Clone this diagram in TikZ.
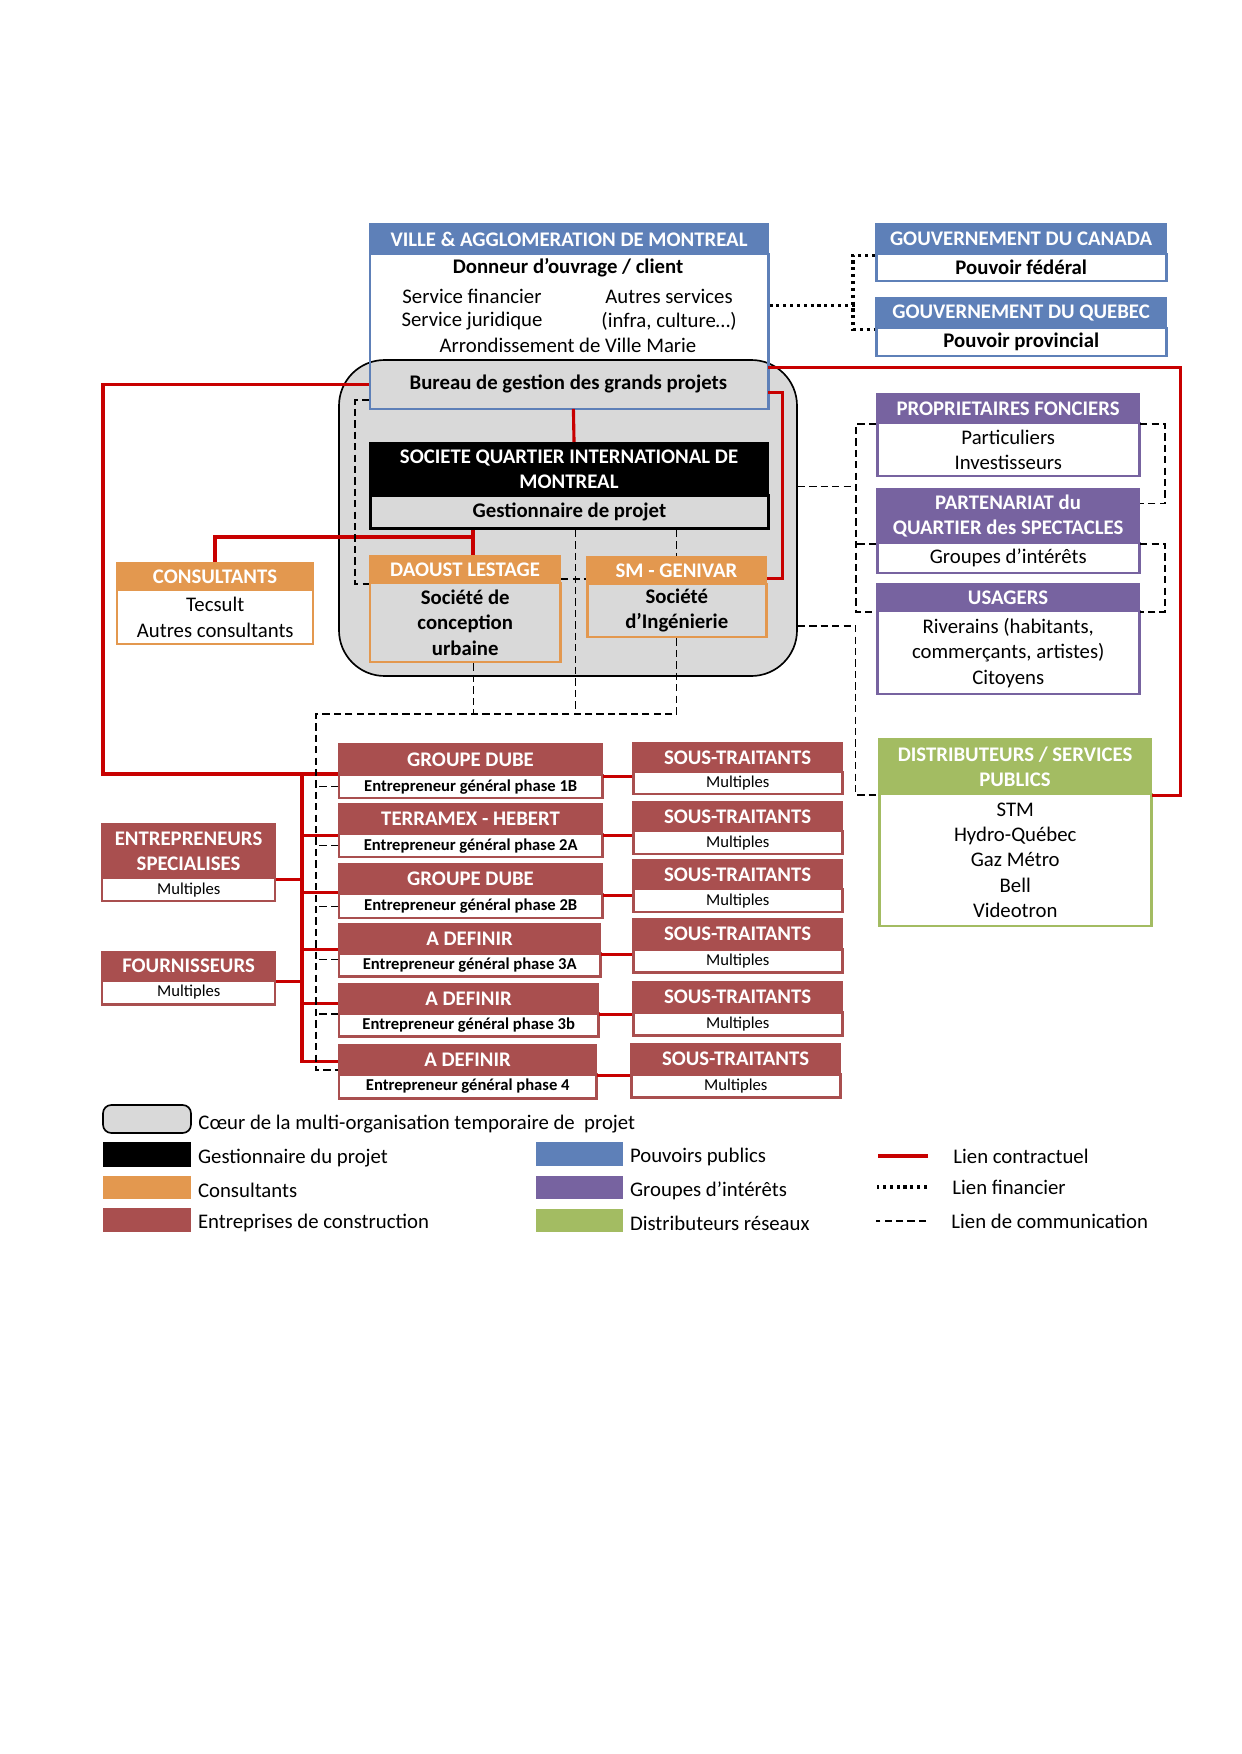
\documentclass[tikz,border=0pt]{standalone}
\usepackage{fontspec}
\setmainfont{Carlito}
\usetikzlibrary{fit,positioning}

\definecolor{cblue}{HTML}{5E80B8}
\definecolor{cpurple}{HTML}{7763A0}
\definecolor{cgreen}{HTML}{A3BC62}
\definecolor{corange}{HTML}{E3984F}
\definecolor{cred}{HTML}{A94F4F}
\definecolor{coregray}{HTML}{D9D9D9}
\definecolor{linkred}{HTML}{C80000}

\newlength{\pxu}
\setlength{\pxu}{0.16922mm}
\newcommand\hdfont{\fontsize{10}{12.2}\selectfont\bfseries}
\newcommand\bdfont{\fontsize{10}{12.2}\selectfont}
\newcommand\smfont{\fontsize{8}{9.6}\selectfont}

\tikzset{
  wh/.style 2 args={minimum width=#1*\pxu, minimum height=#2*\pxu, anchor=north west},
  band/.style={fill=#1, draw=#1, line width=1pt, inner sep=0pt, text=white, font=\hdfont, align=center},
  body/.style={draw=#1, fill=white, line width=1.2pt, inner sep=0pt, align=center, font=\bdfont},
  txt/.style={inner sep=0pt, font=\bdfont},
  contract/.style={draw=linkred, line width=1.5pt},
  comm/.style={draw=black, line width=0.6pt, dash pattern=on 3.5pt off 2pt},
  fin/.style={draw=black, line width=1.5pt, dash pattern=on 1.5pt off 1.8pt},
}

\begin{document}
\begin{tikzpicture}[x=0.16922mm, y=-0.16922mm]
\useasboundingbox (0,0) rectangle (1241,1754);

% coeur du projet
\node[fit={(339,360) (797,676)}, draw, fill=coregray, rounded corners=22pt, inner sep=0pt, line width=0.8pt] (core) {};

% pouvoirs publics
\node[band=cblue, wh={398}{30}] (ville-t) at (369,223) {VILLE \& AGGLOMERATION DE MONTREAL};
\node[body=cblue, fill=none, wh={398}{155}] (ville) at (369,253) {};
\node[txt, font=\bdfont\bfseries] (donneur) at (568,268) {Donneur d’ouvrage / client};
\node[txt] (servfin) at (472,296) {Service financier};
\node[txt] (autres) at (669,296) {Autres services};
\node[txt] (servjur) at (472,321) {Service juridique};
\node[txt] (infra) at (669,321) {(infra, culture…)};
\node[txt] (arr) at (568,345) {Arrondissement de Ville Marie};
\node[wh={398}{48}, inner sep=0pt, font=\bdfont\bfseries] (bureau) at (369,360) {Bureau de gestion des grands projets};

\node[band=cblue, wh={290}{30}] (canada-t) at (875,223) {GOUVERNEMENT DU CANADA};
\node[body=cblue, wh={290}{27}, font=\bdfont\bfseries] (canada) at (875,253) {Pouvoir fédéral};
\node[band=cblue, wh={290}{30}] (quebec-t) at (875,297) {GOUVERNEMENT DU QUEBEC};
\node[body=cblue, wh={290}{28}, font=\bdfont\bfseries] (quebec) at (875,327) {Pouvoir provincial};

% gestionnaire et consultants
\node[band=black, wh={398}{52}] (sqim-t) at (369,442) {SOCIETE QUARTIER INTERNATIONAL DE\\MONTREAL};
\node[body=black, fill=none, line width=1.4pt, wh={398}{33}, font=\bdfont\bfseries] (sqim) at (369,494) {Gestionnaire de projet};

\node[band=corange, wh={190}{27}] (daoust-t) at (369,555) {DAOUST LESTAGE};
\node[body=corange, fill=none, wh={190}{79}, font=\bdfont\bfseries] (daoust) at (369,582) {Société de\\conception\\urbaine};
\node[band=corange, wh={179}{27}] (sm-t) at (586,556) {SM - GENIVAR};
\node[body=corange, fill=none, wh={179}{53}, font=\bdfont\bfseries] (sm) at (586,583) {Société\\d’Ingénierie};
\node[band=corange, wh={196}{27}] (consult-t) at (116,562) {CONSULTANTS};
\node[body=corange, wh={196}{54}] (consult) at (116,589) {Tecsult\\Autres consultants};

% groupes d'interets
\node[band=cpurple, wh={262}{29}] (prop-t) at (876,393) {PROPRIETAIRES FONCIERS};
\node[body=cpurple, wh={262}{53}] (prop) at (876,422) {Particuliers\\Investisseurs};
\node[band=cpurple, wh={262}{54}] (part-t) at (876,488) {PARTENARIAT du\\QUARTIER des SPECTACLES};
\node[body=cpurple, wh={262}{30}] (part) at (876,542) {Groupes d’intérêts};
\node[band=cpurple, wh={262}{27}] (us-t) at (876,583) {USAGERS};
\node[body=cpurple, wh={262}{83}] (us) at (876,610) {Riverains (habitants,\\commerçants, artistes)\\Citoyens};

% distributeurs
\node[band=cgreen, wh={272}{55}] (dist-t) at (878,738) {DISTRIBUTEURS / SERVICES\\PUBLICS};
\node[body=cgreen, wh={272}{132}] (dist) at (878,793) {STM\\Hydro-Québec\\Gaz Métro\\Bell\\Videotron};

% entreprises de construction
\node[band=cred, wh={173}{54}] (es-t) at (101,823) {ENTREPRENEURS\\SPECIALISES};
\node[body=cred, wh={173}{23}, font=\smfont] (es) at (101,877) {Multiples};
\node[band=cred, wh={173}{28}] (fo-t) at (101,951) {FOURNISSEURS};
\node[body=cred, wh={173}{24}, font=\smfont] (fo) at (101,979) {Multiples};

\node[band=cred, wh={263}{31}] (c1-t) at (338,743) {GROUPE DUBE};
\node[body=cred, wh={263}{23}, font=\smfont\bfseries] (c1) at (338,774) {Entrepreneur général phase 1B};
\node[band=cred, wh={263}{30}] (c2-t) at (338,803) {TERRAMEX - HEBERT};
\node[body=cred, wh={263}{23}, font=\smfont\bfseries] (c2) at (338,833) {Entrepreneur général phase 2A};
\node[band=cred, wh={263}{30}] (c3-t) at (338,863) {GROUPE DUBE};
\node[body=cred, wh={263}{24}, font=\smfont\bfseries] (c3) at (338,893) {Entrepreneur général phase 2B};
\node[band=cred, wh={261}{29}] (c4-t) at (338,923) {A DEFINIR};
\node[body=cred, wh={261}{23}, font=\smfont\bfseries] (c4) at (338,952) {Entrepreneur général phase 3A};
\node[band=cred, wh={259}{29}] (c5-t) at (338,983) {A DEFINIR};
\node[body=cred, wh={259}{23}, font=\smfont\bfseries] (c5) at (338,1012) {Entrepreneur général phase 3b};
\node[band=cred, wh={257}{29}] (c6-t) at (338,1044) {A DEFINIR};
\node[body=cred, wh={257}{24}, font=\smfont\bfseries] (c6) at (338,1073) {Entrepreneur général phase 4};

\node[band=cred, wh={209}{29}] (st1-t) at (632,742) {SOUS-TRAITANTS};
\node[body=cred, wh={209}{22}, font=\smfont] (st1) at (632,771) {Multiples};
\node[band=cred, wh={209}{29}] (st2-t) at (632,801) {SOUS-TRAITANTS};
\node[body=cred, wh={209}{23}, font=\smfont] (st2) at (632,830) {Multiples};
\node[band=cred, wh={209}{29}] (st3-t) at (632,859) {SOUS-TRAITANTS};
\node[body=cred, wh={209}{23}, font=\smfont] (st3) at (632,888) {Multiples};
\node[band=cred, wh={209}{30}] (st4-t) at (632,918) {SOUS-TRAITANTS};
\node[body=cred, wh={209}{23}, font=\smfont] (st4) at (632,948) {Multiples};
\node[band=cred, wh={209}{30}] (st5-t) at (632,981) {SOUS-TRAITANTS};
\node[body=cred, wh={209}{23}, font=\smfont] (st5) at (632,1011) {Multiples};
\node[band=cred, wh={209}{30}] (st6-t) at (630,1043) {SOUS-TRAITANTS};
\node[body=cred, wh={209}{23}, font=\smfont] (st6) at (630,1073) {Multiples};

% liens contractuels
\coordinate (bus) at (302,772);
\coordinate (tee) at (473,537);
\draw[contract] (bureau.west) -- ++(-266,0) |- ([yshift=1pt]c1-t.south west);
\draw[contract] (bus) |- ([yshift=6.7pt]c6-t.south west);
\draw[contract] (c2-t.south west) -- (c2-t.south west -| bus);
\draw[contract] ([yshift=1.4pt]c3-t.south west) -- ([yshift=1.4pt]c3-t.south west -| bus);
\draw[contract] ([yshift=2.4pt]c4-t.south west) -- ([yshift=2.4pt]c4-t.south west -| bus);
\draw[contract] ([yshift=5.3pt]c5-t.south west) -- ([yshift=5.3pt]c5-t.south west -| bus);
\draw[contract] (es-t.south east) -- (es-t.south east -| bus);
\draw[contract] (fo-t.south east) -- (fo-t.south east -| bus);
\draw[contract] (c1-t.south east) -- (c1-t.south east -| st1.west);
\draw[contract] (c2-t.south east) -- (c2-t.south east -| st2.west);
\draw[contract] (c3-t.south east) -- (c3-t.south east -| st3.west);
\draw[contract] (c4-t.south east) -- (c4-t.south east -| st4.west);
\draw[contract] (c5-t.south east) -- (c5-t.south east -| st5.west);
\draw[contract] (c6-t.south east) -- (c6-t.south east -| st6.west);
\draw[contract] ([xshift=2.4pt]bureau.south) -- ([xshift=2.4pt]sqim-t.north);
\draw[contract] (sqim.south -| tee) -- (tee) -- (tee |- daoust-t.north);
\draw[contract] (tee) -| (consult-t.north);
\draw[contract] ([yshift=-4pt]bureau.east) -- ++(15,0) |- ([yshift=3pt]sm-t.south east);
\draw[contract] ([yshift=8pt]bureau.east) -- ++(413,0) |- (dist-t.south east);

% liens financiers
\draw[fin] ([yshift=12.7pt]ville.east) -- ++(86,0);
\draw[fin] (canada-t.south west) -- ++(-22,0) |- (quebec-t.south west);

% liens de communication
\coordinate (commbus) at (316,714);
\draw[comm] ([yshift=-7.5pt]bureau.west) -- ++(-14,0) |- (daoust-t.south west);
\draw[comm] ([yshift=2.5pt]daoust-t.south east) -- ([yshift=2.5pt]daoust-t.south east -| sm-t.west);
\draw[comm] ([xshift=3pt]sqim.south) -- ([xshift=3pt]sqim.south |- commbus);
\draw[comm] (sm-t.north |- sqim.south) -- (sm-t.north);
\draw[comm] ([xshift=4pt]daoust.south) -- ([xshift=4pt]daoust.south |- commbus);
\draw[comm] (sm.south) |- (commbus) |- ([yshift=2.4pt]c6-t.south west);
\draw[comm] (c1.west) -- (c1.west -| commbus);
\draw[comm] (c2.west) -- (c2.west -| commbus);
\draw[comm] (c3.west) -- (c3.west -| commbus);
\draw[comm] ([yshift=2.5pt]c4.west) -- ([yshift=2.5pt]c4.west -| commbus);
\draw[comm] (c5-t.south west) -- (c5-t.south west -| commbus);
\draw[comm] ([yshift=15pt]core.east) -- ++(59,0);
\draw[comm] (prop-t.south west) -- ++(-20,0) |- (us-t.south west);
\draw[comm] (part-t.south west) -- ++(-20,0);
\draw[comm] (prop-t.south east) -- ++(25,0) |- ([yshift=6pt]part-t.east);
\draw[comm] (part-t.south east) -- ++(25,0) |- (us-t.south east);
\draw[comm] ([yshift=-52pt]core.east) -- ++(58,0) |- (dist-t.south west);

% legende
\node[fit={(103,1105) (191,1133)}, draw, fill=coregray, rounded corners=4pt, inner sep=0pt, line width=0.8pt] (lg-core) {};
\node[txt, right=3pt of lg-core, yshift=-2.5pt] (lg-core-l) {Cœur de la multi-organisation temporaire de\ \ projet};
\node[fit={(103,1142) (191,1167)}, fill=black, inner sep=0pt] (lg-gest) {};
\node[txt, right=3pt of lg-gest, yshift=-1.5pt] (lg-gest-l) {Gestionnaire du projet};
\node[fit={(103,1176) (191,1199)}, fill=corange, inner sep=0pt] (lg-cons) {};
\node[txt, right=3pt of lg-cons, yshift=-1.5pt] (lg-cons-l) {Consultants};
\node[fit={(103,1208) (191,1232)}, fill=cred, inner sep=0pt] (lg-ent) {};
\node[txt, right=3pt of lg-ent, yshift=-1.5pt] (lg-ent-l) {Entreprises de construction};
\node[fit={(536,1142) (623,1166)}, fill=cblue, inner sep=0pt] (lg-pouv) {};
\node[txt, right=3pt of lg-pouv, yshift=-1.5pt] (lg-pouv-l) {Pouvoirs publics};
\node[fit={(536,1176) (623,1199)}, fill=cpurple, inner sep=0pt] (lg-grp) {};
\node[txt, right=3pt of lg-grp, yshift=-1.5pt] (lg-grp-l) {Groupes d’intérêts};
\node[fit={(536,1209) (623,1232)}, fill=cgreen, inner sep=0pt] (lg-dist) {};
\node[txt, right=3pt of lg-dist, yshift=-1.5pt] (lg-dist-l) {Distributeurs réseaux};
\node[txt, anchor=west] (lg-contract) at (953,1156) {Lien contractuel};
\draw[contract] ([xshift=-12pt]lg-contract.west) -- ++(-50,0);
\node[txt, anchor=west] (lg-fin) at (952,1187) {Lien financier};
\draw[fin] ([xshift=-12pt]lg-fin.west) -- ++(-50,0);
\node[txt, anchor=west] (lg-comm) at (951,1221) {Lien de communication};
\draw[comm] ([xshift=-12pt]lg-comm.west) -- ++(-50,0);

\end{tikzpicture}
\end{document}
